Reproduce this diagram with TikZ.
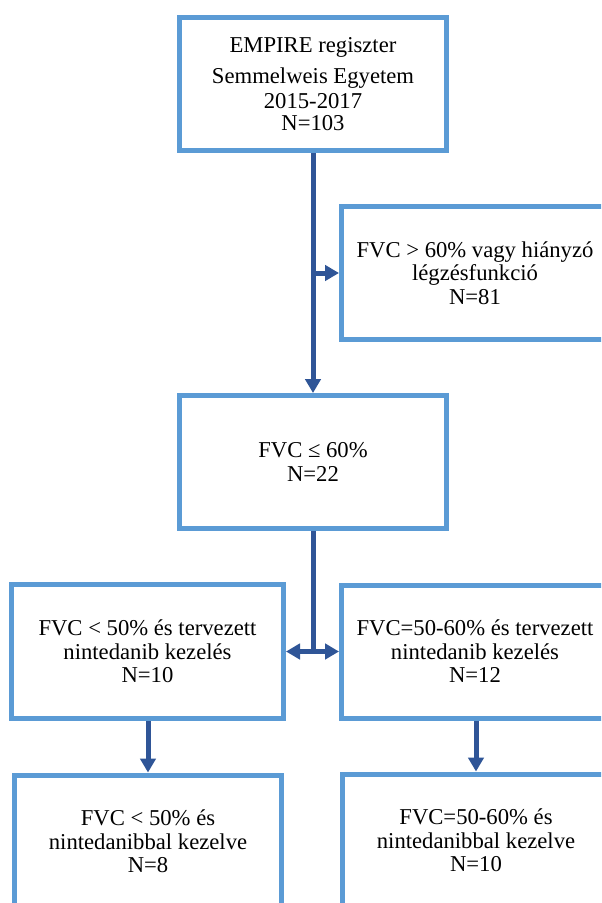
\documentclass[tikz,border=0pt]{standalone}
\usepackage{fontspec}
\setmainfont{Liberation Serif}
\usetikzlibrary{arrows.meta}
\definecolor{boxblue}{HTML}{5B9BD5}
\definecolor{arrblue}{HTML}{2F5597}
\begin{document}
\begin{tikzpicture}[x=0.75pt,y=-0.75pt,
  box/.style={draw=boxblue, line width=3.75pt, fill=white, align=center, inner sep=0pt,
    font=\fontsize{17pt}{17.6pt}\selectfont},
  boxA/.style={box, minimum width=200.25pt, minimum height=99.75pt},
  boxB/.style={box, minimum width=204pt, minimum height=100.5pt},
  conn/.style={draw=arrblue, line width=3.75pt},
  arr/.style={conn, -{Triangle[width=11.5pt,length=10.5pt]}},
  darr/.style={conn, {Triangle[width=11.5pt,length=10.5pt]}-{Triangle[width=11.5pt,length=10.5pt]}}
]
\fill[white] (0,0) rectangle (601,903);
\useasboundingbox (0,0) rectangle (601,903);
\clip (0,0) rectangle (601,903);

\node[boxA, font=\fontsize{17pt}{16.5pt}\selectfont] (top) at (313,84)
  {EMPIRE regiszter\\[7pt]Semmelweis Egyetem\\[2pt]2015-2017\\N=103};
\node[boxA] (excl) at (475,273) {FVC > 60\% vagy hiányzó\\légzésfunkció\\N=81};
\node[boxA] (mid) at (313,462) {FVC ≤ 60\%\\N=22};
\node[boxB] (left) at (147.5,651.5) {FVC < 50\% és tervezett\\nintedanib kezelés\\N=10};
\node[boxA] (right) at (475,651.5) {FVC=50-60\% és tervezett\\nintedanib kezelés\\N=12};
\node[boxA] (bleft) at (148,841.5) {FVC < 50\% és\\nintedanibbal kezelve\\N=8};
\node[boxA] (bright) at (476,840.5) {FVC=50-60\% és\\nintedanibbal kezelve\\N=10};

\coordinate (j1) at (top.south |- excl.west);
\coordinate (j2) at (mid.south |- left.east);
\draw[arr] (top.south) -- (mid.north);
\draw[arr] (j1) -- (excl.west);
\draw[conn] (mid.south) -- (j2);
\draw[darr] (left.east) -- (right.west);
\draw[arr] (left.south -| bleft.north) -- (bleft.north);
\draw[arr] (right.south -| bright.north) -- (bright.north);
\end{tikzpicture}
\end{document}
